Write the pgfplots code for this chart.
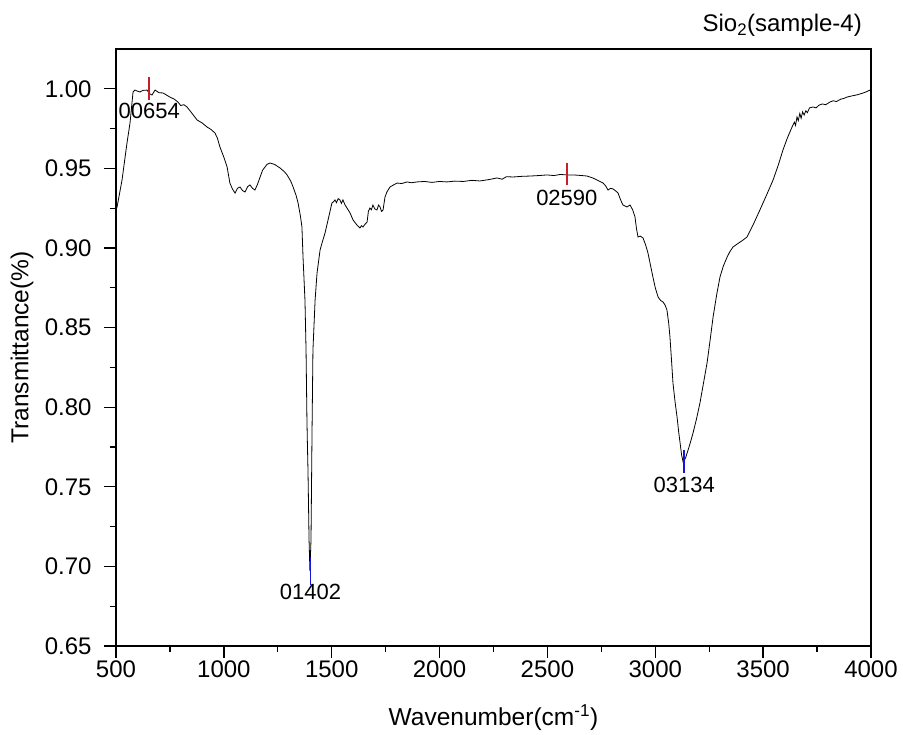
\documentclass[border=0pt]{standalone}
\usepackage{fontspec}
\setmainfont{Liberation Sans}
\usepackage{pgfplots}
\pgfplotsset{compat=1.18}
\definecolor{mkred}{RGB}{200,30,40}
\definecolor{mkblue}{RGB}{20,20,220}
\begin{document}
\begin{tikzpicture}
\begin{axis}[name=ax,
  scale only axis, width=755bp, height=597bp,
  xmin=500, xmax=4000, ymin=0.65, ymax=1.025,
  axis line style={line width=1.6bp},
  every tick/.style={black, line width=1.3bp},
  tick align=outside, major tick length=12bp, minor tick length=6bp,
  xtick={500,1000,...,4000}, xticklabels={500,1000,1500,2000,2500,3000,3500,4000},
  ytick={0.65,0.70,0.75,0.80,0.85,0.90,0.95,1.00},
  yticklabels={0.65,0.70,0.75,0.80,0.85,0.90,0.95,1.00},
  minor x tick num=1, minor y tick num=1,
  xtick pos=bottom, ytick pos=left,
  ticklabel style={font=\fontsize{24bp}{28bp}\selectfont},
  yticklabel style={xshift=-9bp},
  xticklabel style={yshift=1bp},
  xlabel={Wavenumber(cm\textsuperscript{-1})},
  ylabel={Transmittance(\%)},
  label style={font=\fontsize{24.5bp}{28bp}\selectfont},
  xlabel style={at={(axis description cs:0.5,-0.1206)}, anchor=center},
  ylabel style={at={(axis description cs:-0.1245,0.5)}, anchor=center},
  clip=false,
]
\addplot[black, line width=0.8bp] coordinates {
(500,0.924) (505,0.9258) (528,0.9427) (551,0.9660) (565,0.9785) (579,0.9980)
(588,0.9992) (600,0.9985) (611,0.9980) (625,0.9990) (644,0.9992) (655,0.9970)
(667,0.9961) (681,0.9992) (700,0.9975) (718,0.9974) (735,0.9960) (750,0.9948)
(770,0.9935) (787,0.9917) (800,0.9895) (815,0.9900) (829,0.9886) (850,0.9850)
(876,0.9804) (900,0.9785) (922,0.9760) (940,0.9745) (959,0.9722) (970,0.9690)
(982,0.9634) (1000,0.9570) (1015,0.9509) (1028,0.9408) (1040,0.9370) (1052,0.9345)
(1063,0.9375) (1075,0.9383) (1087,0.9360) (1098,0.9352) (1110,0.9385) (1121,0.9396)
(1133,0.9375) (1144,0.9364) (1156,0.9400) (1168,0.9446) (1180,0.9490) (1191,0.9509)
(1200,0.9525) (1214,0.9534) (1235,0.9525) (1260,0.9503) (1280,0.9480) (1293,0.9459)
(1310,0.9420) (1321,0.9383) (1335,0.9330) (1344,0.9283) (1355,0.9200) (1362,0.9132)
(1367,0.8943) (1376,0.8673) (1381,0.8359) (1385,0.7938) (1386,0.7860) (1387,0.7790)
(1390,0.7606) (1395,0.7166) (1399,0.6971) (1404,0.7166) (1409,0.7876) (1413,0.8359)
(1423,0.8673) (1432,0.8843) (1446,0.8987) (1455,0.9031) (1469,0.9094) (1483,0.9176)
(1501,0.9283) (1508,0.9290) (1515,0.9302) (1522,0.9285) (1530,0.9310) (1538,0.9302)
(1545,0.9280) (1552,0.9302) (1562,0.9270) (1571,0.9251) (1585,0.9220) (1599,0.9176)
(1617,0.9144) (1631,0.9126) (1638,0.9140) (1645,0.9132) (1655,0.9150) (1664,0.9163)
(1670,0.9230) (1677,0.9251) (1684,0.9240) (1691,0.9270) (1700,0.9245) (1710,0.9239)
(1717,0.9270) (1724,0.9258) (1731,0.9230) (1738,0.9239) (1747,0.9320) (1756,0.9352)
(1770,0.9383) (1785,0.9395) (1803,0.9408) (1825,0.9405) (1849,0.9415) (1870,0.9410)
(1895,0.9415) (1930,0.9418) (1965,0.9412) (2000,0.9418) (2034,0.9415) (2070,0.9420)
(2110,0.9418) (2150,0.9425) (2187,0.9421) (2230,0.9430) (2266,0.9440) (2290,0.9432)
(2310,0.9448) (2340,0.9446) (2380,0.9450) (2420,0.9452) (2460,0.9455) (2498,0.9459)
(2530,0.9455) (2560,0.9462) (2591,0.9459) (2630,0.9458) (2660,0.9455) (2684,0.9452)
(2710,0.9440) (2730,0.9427) (2758,0.9408) (2770,0.9390) (2781,0.9364) (2793,0.9375)
(2804,0.9371) (2815,0.9360) (2827,0.9346) (2840,0.9300) (2850,0.9270) (2869,0.9258)
(2883,0.9270) (2895,0.9240) (2906,0.9195) (2913,0.9120) (2920,0.9069) (2930,0.9075)
(2943,0.9063) (2955,0.9020) (2966,0.8969) (2978,0.8890) (2989,0.8818) (3000,0.8750)
(3013,0.8692) (3025,0.8670) (3036,0.8661) (3046,0.8640) (3054,0.8611) (3062,0.8530)
(3068,0.8441) (3075,0.8300) (3082,0.8152) (3092,0.8030) (3101,0.7938) (3108,0.7850)
(3115,0.7775) (3122,0.7700) (3129,0.7656) (3140,0.7680) (3152,0.7731) (3163,0.7780)
(3175,0.7838) (3190,0.7920) (3207,0.8026) (3222,0.8140) (3240,0.8278) (3255,0.8430)
(3268,0.8567) (3285,0.8710) (3300,0.8818) (3315,0.8885) (3333,0.8943) (3345,0.8975)
(3360,0.9006) (3385,0.9030) (3407,0.9050) (3425,0.9069) (3455,0.9150) (3485,0.9239)
(3515,0.9330) (3546,0.9427) (3570,0.9520) (3592,0.9616) (3612,0.9690) (3634,0.9760)
(3645,0.9790) (3650,0.9770) (3657,0.9823) (3663,0.9800) (3670,0.9845) (3676,0.9815)
(3683,0.9855) (3690,0.9835) (3698,0.9862) (3705,0.9850) (3715,0.9880) (3731,0.9886)
(3745,0.9880) (3760,0.9898) (3775,0.9905) (3790,0.9900) (3810,0.9917) (3825,0.9925)
(3840,0.9920) (3860,0.9935) (3875,0.9940) (3889,0.9948) (3910,0.9955) (3935,0.9962)
(3960,0.9972) (3980,0.9982) (4000,0.9995)
};
\addplot[mkred, line width=1.5bp] coordinates {(654,1.0074) (654,0.9930)};
\addplot[mkred, line width=1.5bp] coordinates {(2590,0.9534) (2590,0.9396)};
\addplot[mkblue, line width=1.8bp] coordinates {(1402,0.7059) (1402,0.6883)};
\addplot[mkblue, line width=2bp] coordinates {(3134,0.7731) (3134,0.7587)};
\node[anchor=north, inner sep=0pt, yshift=-3bp, font=\fontsize{22bp}{26bp}\selectfont] at (axis cs:654,0.9930) {00654};
\node[anchor=north, inner sep=0pt, yshift=-5bp, font=\fontsize{22bp}{26bp}\selectfont] at (axis cs:2590,0.9396) {02590};
\node[anchor=north, inner sep=0pt, yshift=1bp, font=\fontsize{22bp}{26bp}\selectfont] at (axis cs:1402,0.6883) {01402};
\node[anchor=north, inner sep=0pt, yshift=-4bp, font=\fontsize{22bp}{26bp}\selectfont] at (axis cs:3134,0.7587) {03134};
\node[anchor=base east, inner sep=0pt, xshift=-9bp, yshift=17bp, font=\fontsize{24bp}{28bp}\selectfont] at (rel axis cs:1,1) {Sio\textsubscript{2}(sample-4)};
\end{axis}
\pgfresetboundingbox
\path ([shift={(-116bp,-89bp)}]ax.south west) rectangle ([shift={(32bp,49bp)}]ax.north east);
\end{tikzpicture}
\end{document}
